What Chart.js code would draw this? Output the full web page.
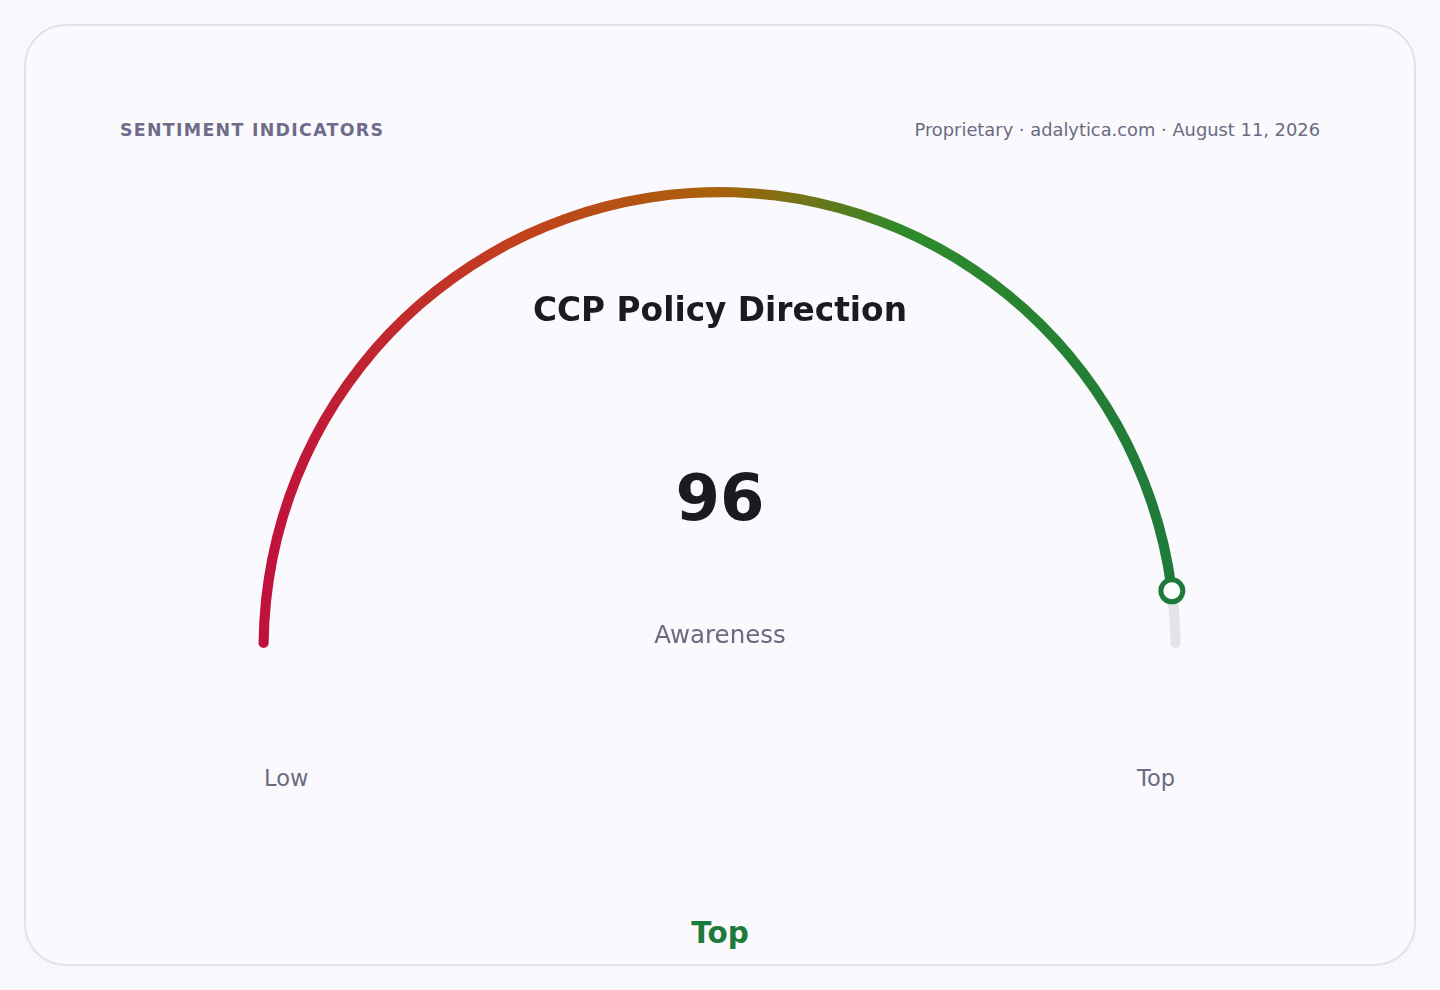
<!DOCTYPE html>
<html>
<head>
<meta charset="utf-8">
<script src="https://cdn.jsdelivr.net/npm/chart.js@4/dist/chart.umd.min.js"></script>
<style>
  html, body { margin: 0; padding: 0; }
  body { width: 1440px; height: 990px; background: #f8f8fc; font-family: "DejaVu Sans", sans-serif; position: relative; overflow: hidden; }
  .card { position: absolute; left: 24px; top: 24px; width: 1388px; height: 938px; border: 2px solid #e2e2ee; border-radius: 42px; background: #f9f9fe; }
  .txt { position: absolute; white-space: nowrap; line-height: 1; }
  .kicker { left: 120px; top: 122px; font-size: 17.4px; font-weight: bold; letter-spacing: 1.3px; color: #6e6c8a; }
  .source { right: 120px; top: 121px; font-size: 17.85px; color: #6b6b80; }
  .title { left: 0; width: 1440px; text-align: center; top: 294px; font-size: 32.8px; font-weight: bold; color: #1a1a22; }
  .value { left: 0; width: 1440px; text-align: center; top: 466px; font-size: 64px; font-weight: bold; color: #1a1a22; }
  .label { left: 0; width: 1440px; text-align: center; top: 623px; font-size: 24.5px; color: #6b6b80; }
  .low { left: 264px; top: 767px; font-size: 22.5px; color: #6b6b80; }
  .top { right: 265px; top: 767px; font-size: 22.5px; color: #6b6b80; }
  .verdict { left: 0; width: 1440px; text-align: center; top: 919px; font-size: 29.5px; font-weight: bold; color: #1e7a3a; }
  .wrap { position: absolute; left: 238px; top: 167px; width: 963px; height: 501px; }
</style>
</head>
<body>
<div class="card"></div>
<div class="txt kicker">SENTIMENT INDICATORS</div>
<div class="txt source">Proprietary · adalytica.com · August 11, 2026</div>
<div class="wrap"><canvas id="gauge"></canvas></div>
<div class="txt title" id="title"></div>
<div class="txt value" id="value"></div>
<div class="txt label" id="label"></div>
<div class="txt low" id="low"></div>
<div class="txt top" id="top"></div>
<div class="txt verdict" id="verdict"></div>
<script>
const indicator = "CCP Policy Direction";
const metric = "Awareness";
const score = 96;
const scaleMax = 100;
const endLabels = ["Low", "Top"];
const verdict = "Top";

document.getElementById("title").textContent = indicator;
document.getElementById("value").textContent = score;
document.getElementById("label").textContent = metric;
document.getElementById("low").textContent = endLabels[0];
document.getElementById("top").textContent = endLabels[1];
document.getElementById("verdict").textContent = verdict;

// gradient red -> orange -> green along the arc
function arcColor(ctx) {
  const area = ctx.chart.chartArea;
  if (!area) return "#c0143c";
  if (ctx.dataIndex === 1) return "#e4e4e8";
  const g = ctx.chart.ctx.createLinearGradient(area.left, 0, area.right, 0);
  g.addColorStop(0, "#c0103e");
  g.addColorStop(0.28, "#c2401e");
  g.addColorStop(0.5, "#a8620a");
  g.addColorStop(0.7, "#2f8a2a");
  g.addColorStop(1, "#1e7a3a");
  return g;
}

const marker = {
  id: "marker",
  afterDatasetsDraw(chart) {
    const arc = chart.getDatasetMeta(0).data[0];
    if (!arc) return;
    const r = (arc.outerRadius + arc.innerRadius) / 2;
    const x = arc.x + Math.cos(arc.endAngle) * r;
    const y = arc.y + Math.sin(arc.endAngle) * r;
    const c = chart.ctx;
    c.save();
    c.beginPath();
    c.arc(x, y, 11, 0, Math.PI * 2);
    c.fillStyle = "#ffffff";
    c.fill();
    c.lineWidth = 5;
    c.strokeStyle = "#1e7a3a";
    c.stroke();
    c.restore();
  }
};

new Chart(document.getElementById("gauge"), {
  type: "doughnut",
  data: {
    labels: [metric, ""],
    datasets: [
      {
        data: [score, scaleMax - score],
        backgroundColor: arcColor,
        borderWidth: 0,
        borderRadius: 5,
      },
    ],
  },
  options: {
    responsive: true,
    maintainAspectRatio: false,
    animation: false,
    rotation: -90,
    circumference: 180,
    cutout: "97.8%",
    layout: { padding: 20 },
    plugins: {
      legend: { display: false },
      tooltip: { enabled: false },
    },
  },
  plugins: [marker],
});
</script>
</body>
</html>
